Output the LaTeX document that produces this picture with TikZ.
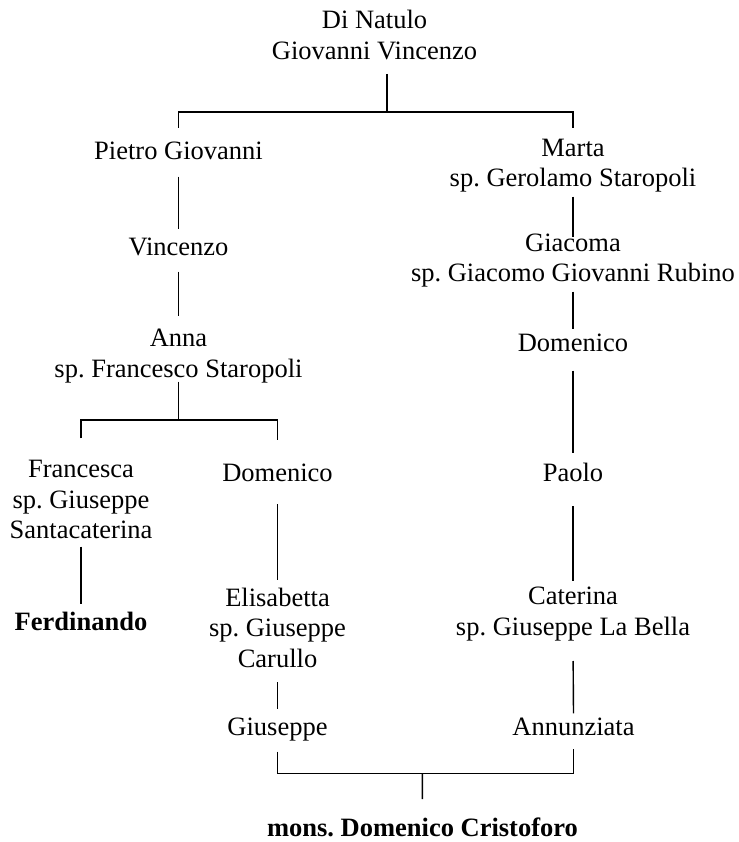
\documentclass[tikz,border=0pt]{standalone}
\usepackage{fontspec}
\setmainfont{Liberation Serif}
\frenchspacing
\newcommand\pstrut{\rule[-9.15pt]{0pt}{30.5pt}}
\tikzset{
  person/.style={font=\fontsize{26.5}{30.5}\selectfont\frenchspacing, inner sep=0pt, outer sep=0pt,
    align=center, anchor=north, execute at begin node=\pstrut, execute at end node=\pstrut},
  link/.style={line width=1.4pt}
}
\begin{document}
\begin{tikzpicture}[x=1pt,y=-1pt]
\useasboundingbox (0,0) rectangle (738,842);
% people
\node[person] (top)   at (374.5,10.35)  {Di Natulo\\Giovanni Vincenzo};
\node[person] (pietro) at (178.5,138.65) {Pietro Giovanni};
\node[person] (vinc)  at (178.5,233.65) {Vincenzo};
\node[person] (anna)  at (178.5,329.35) {Anna\\sp. Francesco Staropoli};
\node[person] (franc) at (81,460.35)    {Francesca\\sp. Giuseppe\\Santacaterina};
\node[person] (ferd)  at (81,608.65)    {\textbf{Ferdinando}};
\node[person] (dom1)  at (277.5,460.35) {Domenico};
\node[person] (elis)  at (277.5,587.65) {Elisabetta\\sp. Giuseppe\\Carullo};
\node[person] (gius)  at (277.5,713.65) {Giuseppe};
\node[person] (marta) at (573,138.65)   {Marta\\sp. Gerolamo Staropoli};
\node[person] (giac)  at (573,233.65)   {Giacoma\\sp. Giacomo Giovanni Rubino};
\node[person] (dom2)  at (573,329.65)   {Domenico};
\node[person] (paolo) at (573,460.35)   {Paolo};
\node[person] (cat)   at (573,586.95)   {Caterina\\sp. Giuseppe La Bella};
\node[person] (ann)   at (573.5,713.65) {Annunziata};
\node[person] (mons)  at (422.5,815.45) {\textbf{mons. Domenico Cristoforo}};
% junctions
\coordinate (j0) at (387,112);
\coordinate (j2) at (178.5,420);
\coordinate (j3) at (422.3,773.3);
% top family
\draw[link, shorten <=5.55pt] (top.south -| j0) -- (j0);
\draw[link, shorten <=11pt, shorten >=11pt] (pietro.north) -- (pietro.north |- j0) -- (marta.north |- j0) -- (marta.north);
% left branch
\draw[link, shorten <=7.55pt, shorten >=4.65pt] (pietro.south) -- (vinc.north);
\draw[link, shorten <=7.55pt, shorten >=13.35pt] (vinc.south) -- (anna.north);
\draw[link, shorten <=-4.85pt] (anna.south) -- (j2);
\draw[link, shorten <=22.05pt, shorten >=20.35pt] (franc.north) -- (franc.north |- j2) -- (dom1.north |- j2) -- (dom1.north);
\draw[link, shorten <=-1.15pt, shorten >=4.65pt] (franc.south) -- (ferd.north);
\draw[link, shorten <=13.45pt, shorten >=7.65pt] (dom1.south) -- (elis.north);
\draw[link, shorten <=5.85pt, shorten >=4.35pt] (elis.south) -- (gius.north);
% right branch
\draw[link, shorten <=0.85pt, shorten >=-3.65pt] (marta.south) -- (giac.north);
\draw[link, shorten <=0.85pt, shorten >=0.65pt] (giac.south) -- (dom2.north);
\draw[link, shorten <=10.55pt, shorten >=7.05pt] (dom2.south) -- (paolo.north);
\draw[link, shorten <=15.15pt, shorten >=5.95pt] (paolo.south) -- (cat.north);
\draw[link, shorten <=16.85pt, shorten >=0.35pt] (cat.south) -- (ann.north);
% bottom union
\draw[link, shorten <=7.55pt, shorten >=5.15pt] (gius.south) -- (gius.south |- j3) -- (ann.south |- j3) -- (ann.south);
\draw[link, shorten >=16.45pt] (j3) -- (mons.north);
\end{tikzpicture}
\end{document}
